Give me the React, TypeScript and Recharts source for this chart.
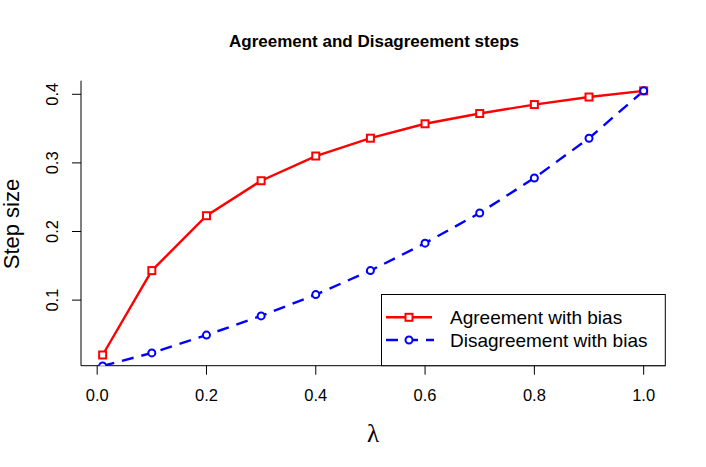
import { LineChart, Line, XAxis, YAxis } from 'recharts';

const lambdas = [0.01, 0.1, 0.2, 0.3, 0.4, 0.5, 0.6, 0.7, 0.8, 0.9, 1.0];
const agreement = [0.02, 0.143, 0.223, 0.274, 0.31, 0.336, 0.357, 0.372, 0.385, 0.396, 0.405];
const disagreement = [0.004, 0.023, 0.049, 0.077, 0.108, 0.143, 0.183, 0.227, 0.278, 0.336, 0.405];
const xTicks = [0, 0.2, 0.4, 0.6, 0.8, 1.0];
const yTicks = [0.1, 0.2, 0.3, 0.4];

const data = lambdas.map((l, i) => ({
  lambda: l,
  agree: agreement[i],
  disagree: disagreement[i],
}));

const FONT = '"Liberation Sans", Arial, Helvetica, sans-serif';

const Square = (props: any) => {
  const { cx, cy, index } = props;
  if (cx == null || cy == null) return <g key={`s-${index}`} />;
  return (
    <rect
      key={`s-${index}`}
      x={cx - 3.5}
      y={cy - 3.5}
      width={7}
      height={7}
      fill="white"
      stroke="#ff0000"
      strokeWidth={2}
    />
  );
};

const Circle = (props: any) => {
  const { cx, cy, index } = props;
  if (cx == null || cy == null) return <g key={`c-${index}`} />;
  return (
    <circle
      key={`c-${index}`}
      cx={cx}
      cy={cy}
      r={3.5}
      fill="white"
      stroke="#0000ff"
      strokeWidth={2}
    />
  );
};

const XTick = (props: any) => {
  const { x, payload } = props;
  return (
    <text x={x} y={395} textAnchor="middle" dominantBaseline="central" fontSize={16.5} fontFamily={FONT} fill="#000">
      {payload.value.toFixed(1)}
    </text>
  );
};

const YTick = (props: any) => {
  const { y, payload } = props;
  return (
    <text
      x={52}
      y={y}
      transform={`rotate(-90, 52, ${y})`}
      textAnchor="middle"
      dominantBaseline="central"
      fontSize={16.5}
      fontFamily={FONT}
      fill="#000"
    >
      {payload.value.toFixed(1)}
    </text>
  );
};

export default function App() {
  return (
    <div style={{ position: 'absolute', left: 0, top: 0, width: 706, height: 467, background: '#fff' }}>
      <LineChart
        width={706}
        height={467}
        data={data}
        margin={{ top: 80.7, right: 40.7, bottom: 71.3, left: 21 }}
      >
        <XAxis
          dataKey="lambda"
          type="number"
          domain={[-0.0296, 1.0396]}
          ticks={xTicks}
          allowDataOverflow
          height={30}
          tickSize={9}
          tick={<XTick />}
          axisLine={{ stroke: '#000' }}
          tickLine={{ stroke: '#000' }}
        />
        <XAxis
          xAxisId="top"
          orientation="top"
          type="number"
          domain={[0, 1]}
          height={0}
          tick={false}
          tickLine={false}
          axisLine={{ stroke: '#000' }}
        />
        <YAxis
          type="number"
          domain={[0.0044, 0.4198]}
          ticks={yTicks}
          allowDataOverflow
          width={60}
          tickSize={9}
          tick={<YTick />}
          axisLine={{ stroke: '#000' }}
          tickLine={{ stroke: '#000' }}
        />
        <YAxis
          yAxisId="right"
          orientation="right"
          type="number"
          domain={[0, 1]}
          width={0}
          tick={false}
          tickLine={false}
          axisLine={{ stroke: '#000' }}
        />
        <Line
          type="linear"
          dataKey="agree"
          stroke="#ff0000"
          strokeWidth={2.4}
          dot={Square}
          activeDot={false}
          isAnimationActive={false}
        />
        <Line
          type="linear"
          dataKey="disagree"
          stroke="#0000ff"
          strokeWidth={2.4}
          strokeDasharray="12 8"
          dot={Circle}
          activeDot={false}
          isAnimationActive={false}
        />
      </LineChart>
      <svg
        width={706}
        height={467}
        style={{ position: 'absolute', left: 0, top: 0, pointerEvents: 'none' }}
      >
        <text x={374} y={41} textAnchor="middle" dominantBaseline="central" fontSize={17} fontWeight="bold" fontFamily={FONT}>
          Agreement and Disagreement steps
        </text>
        <text
          x={11}
          y={224}
          transform="rotate(-90, 11, 224)"
          textAnchor="middle"
          dominantBaseline="central"
          fontSize={22}
          fontFamily={FONT}
        >
          Step size
        </text>
        <text x={373} y={433} textAnchor="middle" dominantBaseline="central" fontSize={25} fontFamily='"Liberation Serif", serif'>
          λ
        </text>
        <rect x={381.5} y={294.5} width={283.8} height={71.2} fill="white" stroke="#000" strokeWidth={1} />
        <line x1={386} x2={432} y1={317.3} y2={317.3} stroke="#ff0000" strokeWidth={2.4} />
        <rect x={405.5} y={313.8} width={7} height={7} fill="white" stroke="#ff0000" strokeWidth={2} />
        <text x={450} y={317.3} dominantBaseline="central" fontSize={19} fontFamily={FONT}>
          Agreement with bias
        </text>
        <line x1={386} x2={434} y1={340} y2={340} stroke="#0000ff" strokeWidth={2.4} strokeDasharray="12 8" />
        <circle cx={409} cy={340} r={3.5} fill="white" stroke="#0000ff" strokeWidth={2} />
        <text x={450} y={340} dominantBaseline="central" fontSize={19} fontFamily={FONT}>
          Disagreement with bias
        </text>
      </svg>
    </div>
  );
}
